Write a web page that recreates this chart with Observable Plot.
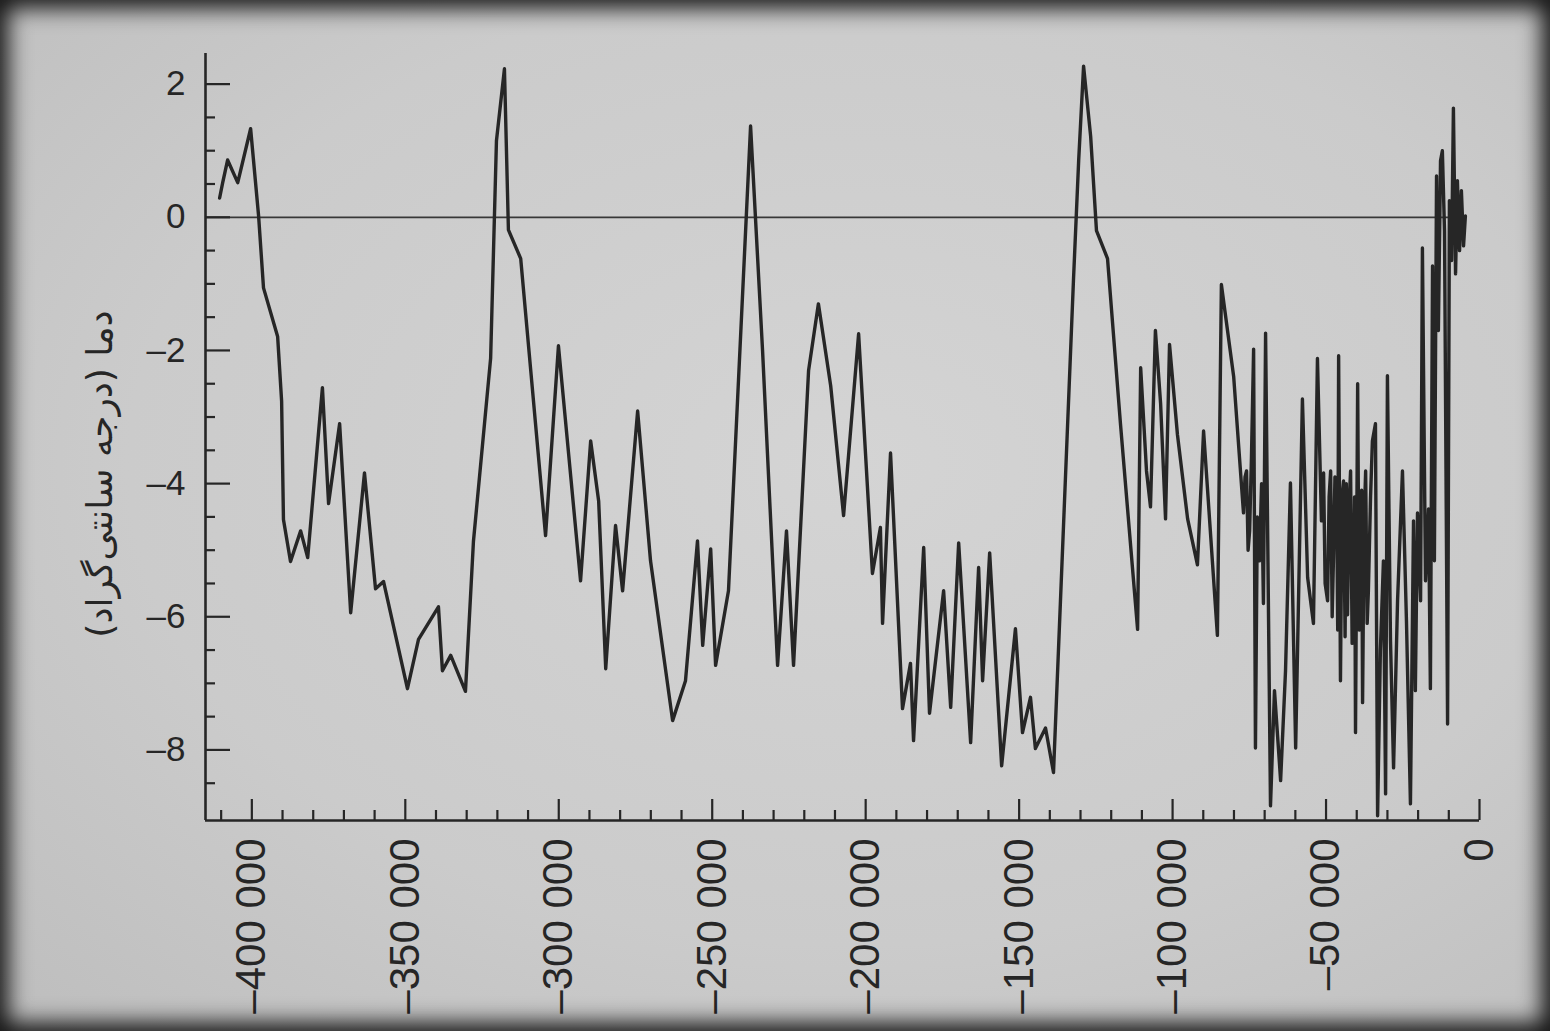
<!DOCTYPE html>
<html><head><meta charset="utf-8">
<script src="https://cdn.jsdelivr.net/npm/d3@7"></script>
<script src="https://cdn.jsdelivr.net/npm/@observablehq/plot@0.6"></script>
<style>
html,body{margin:0;padding:0;background:#151515;}
#paper{position:relative;width:1550px;height:1031px;overflow:hidden;
  background:radial-gradient(ellipse at 55% 45%, #d4d4d4 0%, #cbcbcb 60%, #bdbdbd 100%);}
#paper::after{content:"";position:absolute;left:0;top:0;right:0;bottom:0;pointer-events:none;
  box-shadow: inset 0 0 22px 8px rgba(0,0,0,0.9);}
#paper svg{position:absolute;left:0;top:0;}
</style></head><body><div id="paper"></div>
<script>
// years before present (negative) and temperature anomaly (°C)
const years = [-410500,-409500,-407900,-404600,-400400,-397800,-396200,-391600,-390300,-389700,
-387400,-384100,-381800,-377000,-375000,-371400,-367800,-363300,-359700,-357100,
-349300,-345700,-339200,-337900,-335200,-330400,-327800,-322200,-320300,-317700,
-316400,-312400,-304300,-300100,-292900,-289600,-287000,-284700,-281500,-279200,
-274300,-270100,-262900,-258700,-254800,-253100,-250500,-248900,-244700,-237500,
-233600,-228700,-225800,-223500,-218600,-215400,-211400,-207200,-202300,-197800,
-195200,-194500,-191900,-188000,-185400,-184400,-181100,-179200,-174600,-172300,
-169700,-165800,-163200,-161900,-159600,-155700,-151200,-148900,-146300,-144700,
-141400,-138800,-132300,-130600,-129000,-126700,-124800,-121200,-117000,-111400,
-110400,-108500,-107200,-105600,-103900,-102300,-101000,-98400,-95100,-91900,
-89900,-85400,-84100,-80100,-76900,-76400,-75900,-75400,-74900,-74300,
-73600,-73000,-72400,-71700,-71000,-70400,-69700,-68100,-66800,-64800,
-63200,-61600,-59900,-57700,-56000,-54100,-52800,-51500,-50800,-50300,
-49500,-49000,-48500,-48000,-47600,-47100,-46600,-46200,-45900,-45300,
-44800,-44300,-43800,-43400,-43000,-42500,-42000,-41500,-41100,-40700,
-40400,-39700,-39200,-38800,-38400,-38100,-37600,-37100,-36600,-36200,
-35500,-34900,-33900,-33200,-32300,-31300,-30600,-30000,-29000,-28000,
-26700,-25100,-23800,-22500,-21500,-20900,-20200,-19200,-18600,-17600,
-16600,-16000,-15300,-14700,-14000,-13400,-12700,-12100,-11400,-10400,
-9800,-9100,-8500,-7800,-7200,-6500,-5900,-5200,-4600];
const temps = [0.29,0.52,0.86,0.52,1.33,0.02,-1.06,-1.79,-2.76,-4.54,
-5.17,-4.71,-5.11,-2.56,-4.30,-3.10,-5.94,-3.84,-5.58,-5.47,
-7.08,-6.34,-5.85,-6.81,-6.58,-7.12,-4.87,-2.12,1.15,2.23,
-0.19,-0.62,-4.78,-1.93,-5.46,-3.36,-4.26,-6.78,-4.63,-5.61,
-2.91,-5.16,-7.56,-6.96,-4.86,-6.43,-4.98,-6.73,-5.61,1.37,
-2.00,-6.73,-4.71,-6.73,-2.30,-1.30,-2.53,-4.48,-1.75,-5.35,
-4.66,-6.10,-3.54,-7.38,-6.70,-7.86,-4.96,-7.45,-5.61,-7.36,
-4.89,-7.89,-5.26,-6.96,-5.04,-8.24,-6.18,-7.74,-7.21,-7.98,
-7.67,-8.34,-0.95,0.85,2.27,1.22,-0.20,-0.62,-3.09,-6.19,
-2.26,-3.81,-4.35,-1.70,-2.80,-4.53,-1.91,-3.27,-4.53,-5.22,
-3.21,-6.28,-1.01,-2.39,-4.44,-3.90,-3.81,-5.00,-4.71,-3.60,
-1.98,-7.97,-4.50,-5.16,-4.00,-5.80,-1.74,-8.84,-7.11,-8.46,
-6.81,-3.99,-7.97,-2.73,-5.41,-6.10,-2.12,-4.56,-3.84,-5.50,
-5.76,-4.20,-3.81,-6.00,-5.16,-3.90,-3.96,-6.20,-2.08,-6.96,
-4.20,-3.96,-6.30,-4.00,-5.97,-4.30,-3.81,-6.40,-5.76,-4.20,
-7.74,-2.50,-6.20,-5.76,-4.10,-7.29,-4.60,-3.81,-6.10,-5.61,
-4.20,-3.36,-3.10,-8.99,-6.51,-5.16,-8.66,-2.38,-6.36,-8.27,
-5.76,-3.81,-6.06,-8.81,-4.56,-7.11,-4.44,-5.76,-0.46,-5.46,
-4.38,-7.08,-0.73,-5.16,0.62,-1.70,0.85,1.00,-0.20,-7.61,
0.25,-0.65,1.64,-0.85,0.55,-0.50,0.40,-0.43,0.02];

const xTicksMajor = [-400000,-350000,-300000,-250000,-200000,-150000,-100000,-50000,0];
const yTicksMajor = [-8,-6,-4,-2,0,2];
const yTitle = "دما (درجه سانتی‌گراد)";

const xmin = -415100, xmax = 0, ymin = -9.06, ymax = 2.46;
const xTicksMinor = d3.range(-410000, 0, 10000).filter(v => !xTicksMajor.includes(v));
const yTicksMinor = d3.range(-8.5, 2.01, 0.5).filter(v => !yTicksMajor.includes(v));
const data = years.map((x, i) => ({x, y: temps[i]}));
const fmtX = d => d === 0 ? "0" : "\u2013" + d3.format(",")(Math.abs(d)).replace(/,/g, " ");
const fmtY = d => d < 0 ? "\u2013" + Math.abs(d) : String(d);
const ink = "#262626";

const plot = Plot.plot({
  width: 1550, height: 1031,
  marginLeft: 205, marginRight: 71, marginTop: 53, marginBottom: 211,
  x: {domain: [xmin, xmax], label: null},
  y: {domain: [ymin, ymax], label: null},
  style: {background: "transparent", color: ink, fontFamily: "'Liberation Sans', Arial, sans-serif"},
  marks: [
    Plot.ruleY([0], {x1: xmin, x2: years[years.length - 1], stroke: "#383838", strokeWidth: 1.8}),
    Plot.line(data, {x: "x", y: "y", stroke: ink, strokeWidth: 3.4, strokeLinejoin: "round"}),
    Plot.ruleX([xmin], {stroke: ink, strokeWidth: 2.6}),
    Plot.ruleY([ymin], {stroke: ink, strokeWidth: 2.6}),
    Plot.axisX({ticks: xTicksMajor, tickSize: -21, tickFormat: () => "", strokeWidth: 2.2, stroke: ink, label: null}),
    Plot.axisX({ticks: xTicksMinor, tickSize: -10, tickFormat: () => "", strokeWidth: 2.2, stroke: ink, label: null}),
    Plot.axisX({ticks: xTicksMajor, tickSize: 0, tickPadding: 18, tickRotate: -90, tickFormat: fmtX, fontSize: 42, fill: ink, label: null}),
    Plot.axisY({ticks: yTicksMajor, tickSize: -25, tickFormat: () => "", strokeWidth: 2.2, stroke: ink, label: null}),
    Plot.axisY({ticks: yTicksMinor, tickSize: -10, tickFormat: () => "", strokeWidth: 2.2, stroke: ink, label: null}),
    Plot.axisY({ticks: yTicksMajor, tickSize: 0, tickPadding: 20, tickFormat: fmtY, fontSize: 35, fill: ink, label: null}),
    Plot.text([yTitle], {frameAnchor: "left", textAnchor: "middle", rotate: -90, dx: -105, dy: 37,
      fontSize: 36, fontFamily: "'DejaVu Sans', sans-serif", fill: ink})
  ]
});
document.getElementById("paper").appendChild(plot);
</script>
</body></html>
